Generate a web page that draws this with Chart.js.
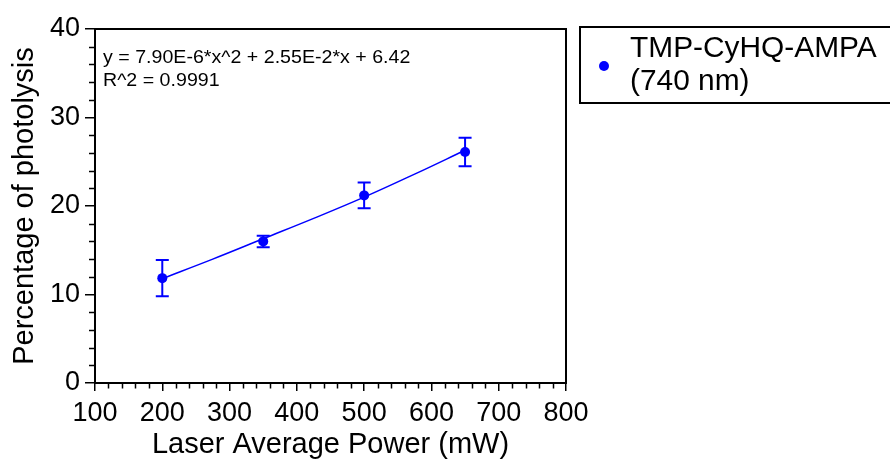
<!DOCTYPE html>
<html>
<head>
<meta charset="utf-8">
<script src="https://cdn.jsdelivr.net/npm/chart.js@4.4.0/dist/chart.umd.min.js"></script>
<style>
body { margin: 0; background: #fff; font-family: "Liberation Sans", Arial, sans-serif; }
#wrap { position: relative; width: 890px; height: 459px; }
#legend { position: absolute; left: 579px; top: 26px; width: 330px; height: 74px; border: 2px solid #000; }
#legend .dot { position: absolute; left: 18px; top: 33px; width: 10px; height: 10px; border-radius: 50%; background: #0000ff; }
#legend .txt { position: absolute; left: 49px; top: 3px; font-size: 29px; line-height: 33px; color: #000; white-space: nowrap; transform: scaleX(1.03); transform-origin: left top; }
#eq { position: absolute; left: 103px; top: 45px; font-size: 18.5px; line-height: 23px; color: #000; white-space: nowrap; transform: scaleX(1.06); transform-origin: left top; }
</style>
</head>
<body>
<div id="wrap">
  <canvas id="chart" width="890" height="459"></canvas>
  <div id="eq">y = 7.90E-6*x^2 + 2.55E-2*x + 6.42<br>R^2 = 0.9991</div>
  <div id="legend"><span class="dot"></span><div class="txt">TMP-CyHQ-AMPA<br>(740 nm)</div></div>
</div>
<script>
// data
const power = [200, 350, 500, 650];
const photolysis = [11.85, 16.0, 21.2, 26.1];
const errors = [2.05, 0.65, 1.45, 1.6];
// fitted curve
const fitX = [200, 275, 350, 425, 500, 575, 650];
const fitY = [11.8, 14.0, 16.3, 18.6, 21.0, 23.6, 26.3];

const BLUE = '#0000ff';

// error bars
const errorBars = {
    id: 'errorBars',
    beforeDatasetsDraw(chart) {
        const ctx = chart.ctx;
        const xs = chart.scales.x, ys = chart.scales.y;
        ctx.save();
        ctx.strokeStyle = BLUE;
        ctx.lineWidth = 2;
        power.forEach((p, i) => {
            const px = xs.getPixelForValue(p);
            const top = ys.getPixelForValue(photolysis[i] + errors[i]);
            const bot = ys.getPixelForValue(photolysis[i] - errors[i]);
            ctx.beginPath();
            ctx.moveTo(px, top); ctx.lineTo(px, bot);
            ctx.moveTo(px - 6.5, top); ctx.lineTo(px + 6.5, top);
            ctx.moveTo(px - 6.5, bot); ctx.lineTo(px + 6.5, bot);
            ctx.stroke();
        });
        ctx.restore();
    }
};

// box around plot + minor ticks
const frame = {
    id: 'frame',
    afterDraw(chart) {
        const ctx = chart.ctx;
        const a = chart.chartArea;
        const xs = chart.scales.x, ys = chart.scales.y;
        ctx.save();
        ctx.strokeStyle = '#000';
        ctx.lineWidth = 2;
        ctx.strokeRect(a.left, a.top, a.right - a.left, a.bottom - a.top);
        ctx.lineWidth = 1.5;
        ctx.beginPath();
        for (let v = 120; v < 800; v += 20) {
            if (v % 100 === 0) continue;
            const px = Math.round(xs.getPixelForValue(v)) + 0.5;
            ctx.moveTo(px, a.bottom); ctx.lineTo(px, a.bottom + 5.5);
        }
        for (let v = 2; v < 40; v += 2) {
            if (v % 10 === 0) continue;
            const py = Math.round(ys.getPixelForValue(v)) + 0.5;
            ctx.moveTo(a.left - 6, py); ctx.lineTo(a.left, py);
        }
        ctx.stroke();
        ctx.restore();
    }
};

const family = '"Liberation Sans", Arial, sans-serif';
const tickFont = { family: family, size: 27 };
const titleFont = { family: family, size: 29, lineHeight: 1 };

new Chart(document.getElementById('chart'), {
    type: 'scatter',
    data: {
        datasets: [
            {
                label: 'TMP-CyHQ-AMPA (740 nm)',
                data: power.map((p, i) => ({ x: p, y: photolysis[i] })),
                pointRadius: 5,
                pointBackgroundColor: BLUE,
                pointBorderWidth: 0,
                showLine: false
            },
            {
                label: 'fit',
                data: fitX.map((x, i) => ({ x: x, y: fitY[i] })),
                showLine: true,
                borderColor: BLUE,
                borderWidth: 1.5,
                pointRadius: 0,
                tension: 0.4,
                fill: false
            }
        ]
    },
    options: {
        responsive: false,
        animation: false,
        layout: { padding: { left: 0, top: 29, right: 324, bottom: 0 } },
        plugins: { legend: { display: false }, tooltip: { enabled: false } },
        scales: {
            x: {
                type: 'linear',
                min: 100, max: 800,
                afterFit: s => { s.height = 76; },
                ticks: { stepSize: 100, color: '#000', font: tickFont, padding: 6, maxRotation: 0 },
                grid: { drawOnChartArea: false, drawTicks: true, tickLength: 8, color: '#000', lineWidth: 1.5 },
                border: { display: true, color: '#000', width: 2 },
                title: { display: true, text: 'Laser Average Power (mW)', color: '#000', font: titleFont, padding: 0 }
            },
            y: {
                min: 0, max: 40,
                afterFit: s => { s.width = 95; },
                ticks: { stepSize: 10, color: '#000', font: tickFont, padding: 5 },
                grid: { drawOnChartArea: false, drawTicks: true, tickLength: 10, color: '#000', lineWidth: 1.5 },
                border: { display: true, color: '#000', width: 2 },
                title: { display: true, text: 'Percentage of photolysis', color: '#000', font: titleFont, padding: { top: 10, bottom: 0 } }
            }
        }
    },
    plugins: [errorBars, frame]
});
</script>
</body>
</html>
